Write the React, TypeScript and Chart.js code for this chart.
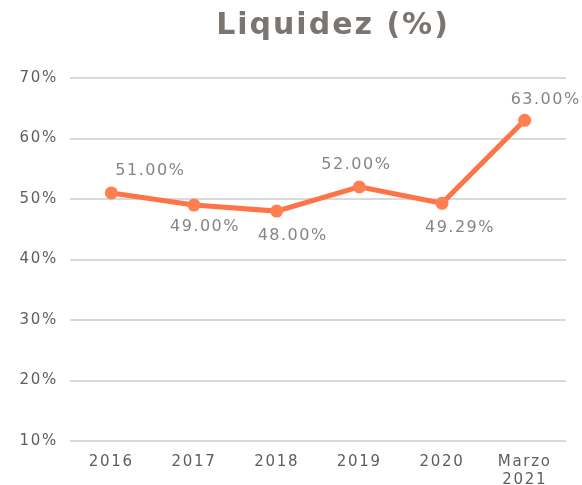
import React, { useEffect, useRef } from "react";
import { Chart, registerables } from "chart.js";

Chart.register(...registerables);

const title = "Liquidez (%)";
const categories: (string | string[])[] = ["2016", "2017", "2018", "2019", "2020", ["Marzo", "2021"]];
const liquidez = [51.0, 49.0, 48.0, 52.0, 49.29, 63.0];
const yTicks = [10, 20, 30, 40, 50, 60, 70];

// label styling (offsets from the point, px)
const labelDx = [39, 11, 16, -3, 18, 21];
const labelDy = [-22, 22, 25, -22, 25, -21];

const FONT = "'DejaVu Sans', Verdana, sans-serif";

const spacingPlugin = {
  id: "spacing",
  beforeLayout(chart: any) {
    chart.ctx.letterSpacing = "1.7px";
  },
  beforeDraw(chart: any) {
    chart.ctx.letterSpacing = "1.7px";
  },
};

const titlePlugin = {
  id: "customTitle",
  afterDraw(chart: any) {
    const ctx = chart.ctx;
    ctx.save();
    ctx.letterSpacing = "2px";
    ctx.font = `bold 30px ${FONT}`;
    ctx.fillStyle = "#7a7571";
    ctx.textAlign = "center";
    ctx.textBaseline = "middle";
    ctx.fillText(title, 333, 26);
    ctx.restore();
  },
};

const labelPlugin = {
  id: "dataLabels",
  afterDatasetsDraw(chart: any) {
    const ctx = chart.ctx;
    const meta = chart.getDatasetMeta(0);
    ctx.save();
    ctx.letterSpacing = "1.5px";
    ctx.font = `16px ${FONT}`;
    ctx.fillStyle = "#858585";
    ctx.textAlign = "center";
    ctx.textBaseline = "middle";
    meta.data.forEach((pt: any, i: number) => {
      const v = liquidez[i];
      ctx.fillText(v.toFixed(2) + "%", pt.x + labelDx[i], pt.y + labelDy[i]);
    });
    ctx.restore();
  },
};

export default function App() {
  const ref = useRef<HTMLCanvasElement>(null);
  useEffect(() => {
    if (!ref.current) return;
    const chart = new Chart(ref.current, {
      type: "line",
      data: {
        labels: categories,
        datasets: [
          {
            data: liquidez,
            borderColor: "#ff7446",
            backgroundColor: "#ff7f50",
            pointBackgroundColor: "#ff7f50",
            pointBorderColor: "#ff7f50",
            borderWidth: 5,
            pointRadius: 6.5,
            pointBorderWidth: 0,
            tension: 0,
          },
        ],
      },
      options: {
        responsive: false,
        animation: false,
        devicePixelRatio: 1,
        layout: { padding: { top: 78, right: 16, left: 0, bottom: 0 } },
        plugins: {
          legend: { display: false },
          title: { display: false },
          tooltip: { enabled: false },
        },
        scales: {
          x: {
            offset: true,
            grid: { display: false, drawTicks: false },
            border: { display: false },
            ticks: {
              color: "#5e5e5e",
              font: { family: FONT, size: 15 },
              padding: 12,
              maxRotation: 0,
              autoSkip: false,
            },
            afterFit: (s: any) => {
              s.height = 44;
            },
          },
          y: {
            min: 10,
            max: 70,
            afterBuildTicks: (s: any) => {
              s.ticks = yTicks.map((v) => ({ value: v }));
            },
            grid: { color: "#d9d9d9", lineWidth: 2, drawTicks: false },
            border: { display: false },
            ticks: {
              color: "#5e5e5e",
              font: { family: FONT, size: 15 },
              padding: 12,
              callback: (v: any) => v + "%",
            },
            afterFit: (s: any) => {
              s.width = 70;
            },
          },
        },
      },
      plugins: [spacingPlugin, titlePlugin, labelPlugin],
    });
    return () => chart.destroy();
  }, []);
  return (
    <div style={{ position: "fixed", left: 0, top: 0, width: 582, height: 485, background: "#fff" }}>
      <canvas ref={ref} width={582} height={485} style={{ width: 582, height: 485 }} />
    </div>
  );
}
